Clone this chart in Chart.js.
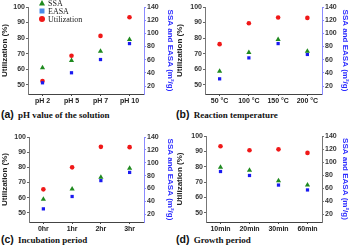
<!DOCTYPE html>
<html lang="en">
<head>
<meta charset="UTF-8">
<title>Utilization, SSA and EASA</title>
<script src="https://cdn.jsdelivr.net/npm/chart.js"></script>
<style>
  body { margin: 0; background: #fff; }
  .panel { position: absolute; width: 175px; }
  .panel canvas { position: absolute; left: 0; top: 0; }
  .cap { position: absolute; left: 1px; white-space: nowrap; font-family: "Liberation Serif", serif; font-weight: bold; font-size: 9px; color: #111; }
  .cap b { font-family: "Liberation Sans", Arial, sans-serif; font-size: 10.5px; margin-right: 2px; }
</style>
</head>
<body>
<div class="panel" style="left:0;top:0">
  <canvas id="chartA" width="175" height="106"></canvas>
  <div class="cap" style="top:108px"><b>(a)</b> pH value of the solution</div>
</div>
<div class="panel" style="left:175px;top:0">
  <canvas id="chartB" width="175" height="106"></canvas>
  <div class="cap" style="top:108px"><b>(b)</b> Reaction temperature</div>
</div>
<div class="panel" style="left:0;top:123px">
  <canvas id="chartC" width="175" height="110"></canvas>
  <div class="cap" style="top:110px"><b>(c)</b> Incubation period</div>
</div>
<div class="panel" style="left:175px;top:123px">
  <canvas id="chartD" width="175" height="110"></canvas>
  <div class="cap" style="top:110px"><b>(d)</b> Growth period</div>
</div>

<script>
// tick labels
const leftTicks = [50, 60, 70, 80, 90, 100];
const rightTicks = [20, 40, 60, 80, 100, 120, 140];

// (a) pH
const catA = ['pH 2', 'pH 5', 'pH 7', 'pH 10'];
const utilA = [52.4, 68.6, 81.4, 93.4];
const ssaA = [47.7, 58.8, 73, 90.6];
const easaA = [25, 40.2, 60.3, 84.5];

// (b) temperature
const catB = ['50 °C', '100 °C', '150 °C', '200 °C'];
const utilB = [76.1, 89.5, 93.2, 93];
const ssaB = [42.7, 71, 90.6, 73];
const easaB = [31, 62.8, 84.5, 68];

// (c) incubation
const catC = ['0hr', '1hr', '2hr', '3hr'];
const utilC = [65.5, 80, 93.5, 93.3];
const ssaC = [43.5, 59.2, 77.4, 91.5];
const easaC = [28.4, 47.6, 72.3, 85];

// (d) growth
const catD = ['10min', '20min', '30min', '60min'];
const utilD = [93.3, 90.7, 91.3, 89];
const ssaD = [92, 87.5, 71.3, 64.7];
const easaD = [85.5, 79.4, 64.7, 57.2];

const RED = '#f01818';
const GREEN = '#1f8a1f';
const BLUE = '#1a1af0';

const tickFont = { family: 'Liberation Sans', size: 7, weight: 'bold' };
const titleFont = { family: 'Liberation Sans', size: 8, weight: 'bold' };

// legend drawn inside the plot (panel a only)
const insideLegend = {
    id: 'insideLegend',
    afterDraw(chart, args, o) {
        if (!o.show) return;
        const ctx = chart.ctx;
        ctx.save();
        ctx.font = '8px "Liberation Serif"';
        ctx.textBaseline = 'middle';
        chart.data.datasets.forEach((ds, i) => {
            const x = o.x, y = o.y + i * o.step;
            ctx.fillStyle = o.colors[i];
            ctx.beginPath();
            if (ds.pointStyle === 'triangle') {
                ctx.moveTo(x, y - 3); ctx.lineTo(x + 3, y + 2.5); ctx.lineTo(x - 3, y + 2.5);
            } else if (ds.pointStyle === 'rect') {
                ctx.rect(x - 2.5, y - 2.5, 5, 5);
            } else {
                ctx.arc(x, y, 3, 0, Math.PI * 2);
            }
            ctx.fill();
            ctx.fillStyle = '#222';
            ctx.fillText(ds.label, x + 6, y + 0.5);
        });
        ctx.restore();
    }
};

function makeChart(id, labels, util, ssa, easa, box, rightAxis, legend) {
    const canvas = document.getElementById(id);
    const W = canvas.width, H = canvas.height;
    return new Chart(canvas, {
        type: 'line',
        data: {
            labels: labels,
            datasets: [
                { label: 'SSA', data: ssa, yAxisID: 'y1', pointStyle: 'triangle', pointRadius: 3, backgroundColor: GREEN, borderColor: GREEN, pointBorderWidth: 0, showLine: false },
                { label: 'EASA', data: easa, yAxisID: 'y1', pointStyle: 'rect', pointRadius: 2.3, backgroundColor: BLUE, borderColor: BLUE, pointBorderWidth: 0, showLine: false },
                { label: 'Utilization', data: util, yAxisID: 'y', pointStyle: 'circle', pointRadius: 2.3, backgroundColor: RED, borderColor: RED, pointBorderWidth: 0, showLine: false }
            ]
        },
        options: {
            responsive: false,
            animation: false,
            layout: { padding: { top: box.t, left: 0, right: 0, bottom: 0 } },
            plugins: {
                legend: { display: false },
                tooltip: { enabled: false },
                insideLegend: legend || { show: false }
            },
            scales: {
                x: {
                    type: 'category',
                    offset: true,
                    grid: { drawOnChartArea: false, tickLength: 2, color: '#444' },
                    border: { color: '#444' },
                    ticks: { font: tickFont, color: '#222', padding: 1, maxRotation: 0, autoSkip: false },
                    afterFit: s => { s.height = H - box.b; }
                },
                y: {
                    position: 'left',
                    min: 44,
                    max: 100,
                    afterBuildTicks: s => { s.ticks = leftTicks.map(v => ({ value: v })); },
                    title: { display: true, text: 'Utilization (%)', font: titleFont, color: '#222', padding: 0 },
                    grid: { drawOnChartArea: false, tickLength: 2, color: '#666' },
                    border: { color: '#777' },
                    ticks: { font: tickFont, color: '#333', padding: 1 },
                    afterFit: s => { s.width = box.l; }
                },
                y1: {
                    position: 'right',
                    min: 8,
                    max: 140,
                    afterBuildTicks: s => { s.ticks = rightTicks.map(v => ({ value: v })); },
                    title: { display: true, text: 'SSA and EASA (m²/g)', font: titleFont, color: '#2b2bff', padding: 0 },
                    grid: { drawOnChartArea: false, tickLength: 2, color: rightAxis },
                    border: { color: rightAxis },
                    ticks: { font: tickFont, color: '#333', padding: 1 },
                    afterFit: s => { s.width = W - box.r; }
                }
            }
        },
        plugins: [insideLegend]
    });
}

makeChart('chartA', catA, utilA, ssaA, easaA, { l: 28, r: 144, t: 7, b: 94 }, '#8a8aff',
    { show: true, x: 42, y: 3, step: 8, colors: [GREEN, '#4a8ae8', RED] });
makeChart('chartB', catB, utilB, ssaB, easaB, { l: 30, r: 147, t: 7, b: 94 }, '#8a8aff');
makeChart('chartC', catC, utilC, ssaC, easaC, { l: 29, r: 144, t: 14, b: 99 }, '#8a8aff');
makeChart('chartD', catD, utilD, ssaD, easaD, { l: 31, r: 147, t: 13, b: 99 }, '#777');
</script>
</body>
</html>
